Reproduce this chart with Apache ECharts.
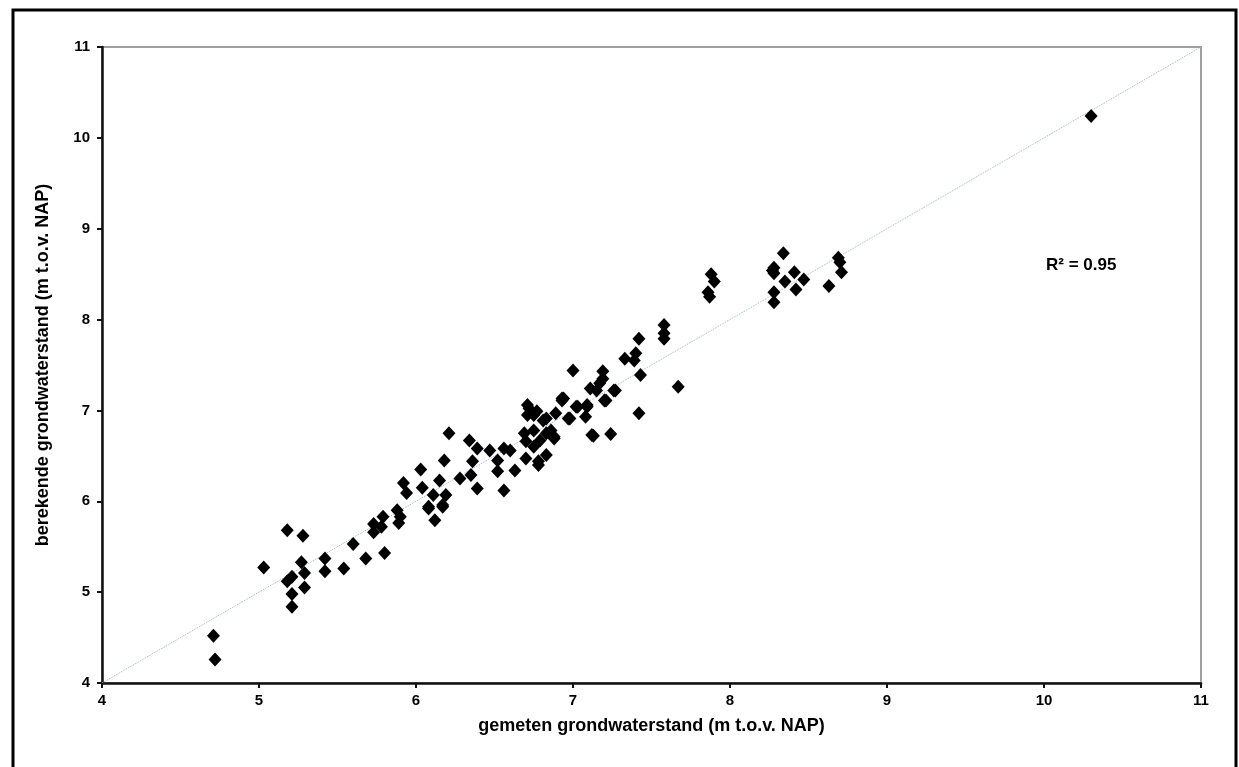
<!DOCTYPE html>
<html>
<head>
<meta charset="utf-8">
<script src="https://cdn.jsdelivr.net/npm/echarts@6/dist/echarts.min.js"></script>
<style>
  html, body { margin: 0; padding: 0; background: #fff; }
  #chart { width: 1239px; height: 767px; }
</style>
</head>
<body>
<div id="chart"></div>
<script>
// gemeten (x) vs berekende (y) grondwaterstand, m t.o.v. NAP
var gemeten = [
  4.71, 4.72, 5.03, 5.18, 5.28, 5.27, 5.29, 5.18, 5.21, 5.21, 5.21, 5.29, 5.42, 5.42, 5.54, 5.60,
  5.68, 5.80, 5.73, 5.73, 5.78, 5.79, 5.88, 5.89, 5.90, 5.92, 5.94, 6.03, 6.04, 6.08, 6.08, 6.11,
  6.12, 6.15, 6.17, 6.17, 6.19, 6.18, 6.21,
  6.28, 6.34, 6.35, 6.36, 6.39, 6.39, 6.47, 6.52, 6.52, 6.56, 6.56, 6.63, 6.70, 6.78, 6.83, 6.60,
  6.69, 6.70, 6.71, 6.71, 6.72, 6.75, 6.77, 6.75, 6.75, 6.79, 6.81, 6.83, 6.83, 6.86, 6.88, 6.88,
  6.89, 6.93, 6.93, 6.98, 6.97, 6.94, 6.78,
  7.00, 7.02, 7.03, 7.08, 7.09, 7.09, 7.11, 7.12, 7.13, 7.15, 7.17, 7.19, 7.19, 7.20, 7.21, 7.24,
  7.26, 7.27, 7.33, 7.39, 7.40, 7.42, 7.42, 7.43, 7.58, 7.58, 7.58, 7.67,
  7.86, 7.87, 7.88, 7.90, 8.28, 8.28, 8.27, 8.28, 8.28, 8.34, 8.35, 8.41, 8.42, 8.47, 8.63, 8.69,
  8.70, 8.71, 10.30
];
var berekend = [
  4.52, 4.26, 5.27, 5.68, 5.62, 5.33, 5.21, 5.12, 5.17, 4.98, 4.84, 5.05, 5.37, 5.23, 5.26, 5.53,
  5.37, 5.43, 5.75, 5.66, 5.72, 5.83, 5.90, 5.76, 5.83, 6.20, 6.09, 6.35, 6.15, 5.92, 5.94, 6.07,
  5.79, 6.23, 5.94, 5.96, 6.07, 6.45, 6.75,
  6.25, 6.67, 6.29, 6.44, 6.58, 6.14, 6.56, 6.45, 6.33, 6.58, 6.12, 6.34, 6.47, 6.40, 6.51, 6.56,
  6.75, 6.66, 7.06, 6.95, 7.02, 6.95, 6.99, 6.78, 6.60, 6.67, 6.89, 6.91, 6.75, 6.78, 6.69, 6.71,
  6.97, 7.13, 7.11, 6.91, 6.91, 7.13, 6.44,
  7.44, 7.04, 7.04, 6.93, 7.04, 7.06, 7.24, 6.73, 6.72, 7.22, 7.30, 7.43, 7.35, 7.11, 7.11, 6.74,
  7.22, 7.22, 7.57, 7.55, 7.63, 7.79, 6.97, 7.39, 7.94, 7.85, 7.79, 7.26,
  8.30, 8.25, 8.50, 8.42, 8.57, 8.51, 8.54, 8.30, 8.19, 8.73, 8.42, 8.52, 8.33, 8.44, 8.37, 8.68,
  8.63, 8.52, 10.24
];
var lijn1op1 = [[4, 4], [11, 11]];
var r2Label = 'R² = 0.95';

var punten = gemeten.map(function (x, i) { return [x, berekend[i]]; });

var chart = echarts.init(document.getElementById('chart'));

var labelFont = {
  color: '#000',
  fontFamily: 'Liberation Sans, Arial, sans-serif',
  fontWeight: 'bold',
  fontSize: 15
};
var nameFont = {
  color: '#000',
  fontFamily: 'Liberation Sans, Arial, sans-serif',
  fontWeight: 'bold',
  fontSize: 18
};

var option = {
  backgroundColor: '#fff',
  animation: false,
  grid: { left: 102, top: 47, right: 38, bottom: 84, show: true, borderColor: '#a0a0a0', borderWidth: 2 },
  xAxis: {
    type: 'value', min: 4, max: 11, interval: 1,
    name: 'gemeten grondwaterstand (m t.o.v. NAP)',
    nameLocation: 'middle', nameGap: 34,
    nameTextStyle: nameFont,
    axisLine: { lineStyle: { color: '#111', width: 2.5 } },
    axisTick: { show: true, length: 5, lineStyle: { color: '#111', width: 2 } },
    axisLabel: Object.assign({ margin: 10 }, labelFont),
    splitLine: { show: false }
  },
  yAxis: {
    type: 'value', min: 4, max: 11, interval: 1,
    name: 'berekende grondwaterstand (m t.o.v. NAP)',
    nameLocation: 'middle', nameGap: 50,
    nameTextStyle: nameFont,
    axisLine: { show: true, lineStyle: { color: '#111', width: 2.5 } },
    axisTick: { show: true, length: 5, lineStyle: { color: '#111', width: 2 } },
    axisLabel: Object.assign({ margin: 12 }, labelFont),
    splitLine: { show: false }
  },
  graphic: [
    {
      type: 'rect', silent: true, z: -1,
      shape: { x: 13, y: 10, width: 1223, height: 800 },
      style: { fill: null, stroke: '#000', lineWidth: 3 }
    },
    {
      type: 'text', left: 1046, top: 257,
      style: { text: r2Label, fill: '#000', font: 'bold 17px Liberation Sans, Arial, sans-serif' }
    }
  ],
  series: [
    {
      type: 'line', data: lijn1op1, symbol: 'none', silent: true,
      lineStyle: { color: '#9aaedc', width: 1, type: 'dotted' }, z: 1
    },
    {
      type: 'scatter', data: punten,
      symbol: 'path://M0,-1L1,0L0,1L-1,0Z', symbolSize: [13, 14],
      itemStyle: { color: '#000', opacity: 1 }, z: 2
    }
  ]
};

chart.setOption(option);
</script>
</body>
</html>
